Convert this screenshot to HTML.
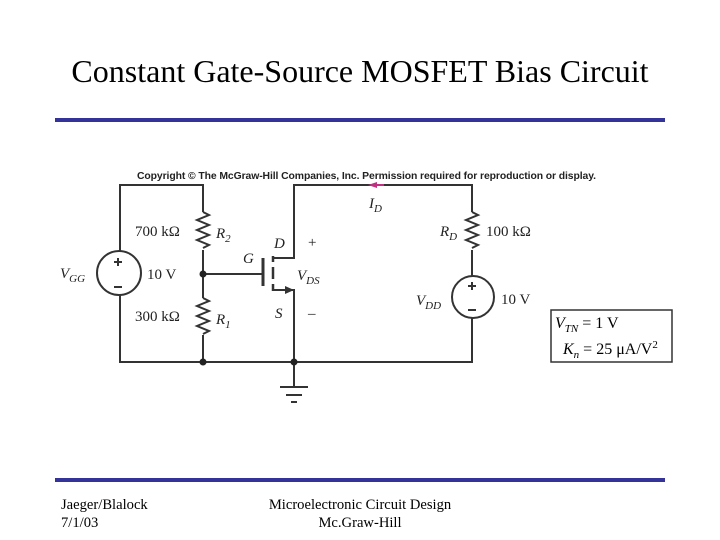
<!DOCTYPE html>
<html><head><style>
body{margin:0;background:#fff;}
svg{display:block;}
text{font-family:"Liberation Serif",serif;}
</style></head><body>
<svg width="720" height="540" viewBox="0 0 720 540">
<text x="360" y="82" font-size="32" text-anchor="middle">Constant Gate-Source MOSFET Bias Circuit</text>
<rect x="55" y="118" width="610" height="4" fill="#33339a"/>
<rect x="55" y="478" width="610" height="4" fill="#33339a"/>
<text x="61" y="509" font-size="14.6">Jaeger/Blalock</text>
<text x="61" y="527" font-size="14.6">7/1/03</text>
<text x="360" y="509" font-size="14.6" text-anchor="middle">Microelectronic Circuit Design</text>
<text x="360" y="527" font-size="14.6" text-anchor="middle">Mc.Graw-Hill</text>
<text x="137" y="179" font-size="10.4" font-weight="bold" style="font-family:'Liberation Sans',sans-serif" fill="#222" textLength="459">Copyright © The McGraw-Hill Companies, Inc. Permission required for reproduction or display.</text>
<g stroke="#333" stroke-width="2" fill="none">
<path d="M120 251 V185 H203 V212 M203 250 V298 M203 335 V362 H120 V295"/>
<path d="M203 212 l6 3 l-12 5 l12 5 l-12 5 l12 5 l-12 5 l12 5 l-6 3"/>
<path d="M203 298 l6 3 l-12 5 l12 5 l-12 5 l12 5 l-12 5 l12 5 l-6 3"/>
<circle cx="119" cy="273" r="22"/>
<path d="M203 274 H263"/>
<path d="M263 258 V286" stroke-width="3"/>
<path d="M273 256 V262 M273 267 V279 M273 284 V291" stroke-width="2.5"/>
<path d="M273 258 H294 V185 H472 V212 M472 250 V276 M472 318 V362 H203"/>
<path d="M273 290 H294 V387"/>
<path d="M472 212 l6 3 l-12 5 l12 5 l-12 5 l12 5 l-12 5 l12 5 l-6 3"/>
<circle cx="473" cy="297" r="21"/>
<path d="M280 387 H308 M286 395 H302 M291 402 H297"/>
<path d="M114 262 h8 M118 258 v8 M114 287 h8 M468 286 h8 M472 282 v8 M468 310 h8"/>
</g>
<path d="M294 290 l-9 -4 v8 z" fill="#333"/>
<circle cx="203" cy="274" r="3.5" fill="#222"/>
<circle cx="203" cy="362" r="3.5" fill="#222"/>
<circle cx="294" cy="362" r="3.5" fill="#222"/>
<path d="M368 185 l9 -3 v6 z" fill="#c03080"/><path d="M376 185 H384" stroke="#c03080" stroke-width="2"/>
<g font-size="15" fill="#222">
<text x="135" y="236">700 kΩ</text>
<text x="135" y="321">300 kΩ</text>
<text x="147" y="279">10 V</text>
<text x="486" y="236">100 kΩ</text>
<text x="501" y="304">10 V</text>
<text x="216" y="238" font-style="italic">R<tspan font-size="11" dy="4">2</tspan></text>
<text x="216" y="324" font-style="italic">R<tspan font-size="11" dy="4">1</tspan></text>
<text x="440" y="236" font-style="italic">R<tspan font-size="11" dy="4">D</tspan></text>
<text x="369" y="208" font-style="italic">I<tspan font-size="11" dy="4">D</tspan></text>
<text x="60" y="278" font-style="italic">V<tspan font-size="11" dy="4">GG</tspan></text>
<text x="416" y="305" font-style="italic">V<tspan font-size="11" dy="4">DD</tspan></text>
<text x="297" y="280" font-style="italic">V<tspan font-size="11" dy="4">DS</tspan></text>
<text x="243" y="263" font-style="italic">G</text>
<text x="274" y="248" font-style="italic">D</text>
<text x="275" y="318" font-style="italic">S</text>
<text x="308" y="247">+</text>
<text x="308" y="318">–</text>
</g>
<rect x="551" y="310" width="121" height="52" fill="none" stroke="#333" stroke-width="1.5"/>
<text x="555" y="328" font-size="16" font-style="italic">V<tspan font-size="11" dy="4">TN</tspan><tspan dy="-4" font-style="normal"> = 1 V</tspan></text>
<text x="563" y="354" font-size="16" font-style="italic">K<tspan font-size="11" dy="4">n</tspan><tspan dy="-4" font-style="normal"> = 25 μA/V</tspan><tspan font-size="11" dy="-6" font-style="normal">2</tspan></text>
</svg>
</body></html>
